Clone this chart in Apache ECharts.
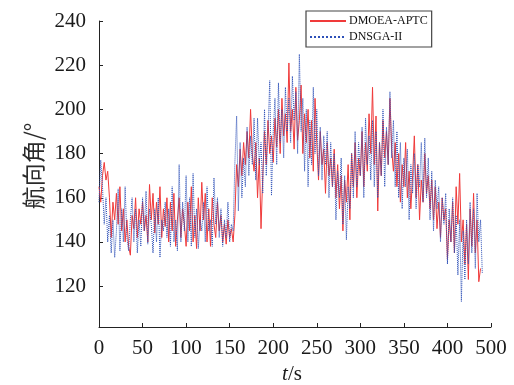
<!DOCTYPE html>
<html>
<head>
<meta charset="utf-8">
<script src="https://cdn.jsdelivr.net/npm/echarts@6/dist/echarts.min.js"></script>
<style>html,body{margin:0;padding:0;background:#fff}#c{width:514px;height:385px}</style>
</head>
<body>
<div id="c"></div>
<script>
// time step of the samples (s)
var tStep = 2;
// x tick positions and their printed labels (as in the reference)
var xTicks = [0, 50, 100, 150, 200, 250, 300, 350, 400, 450];
var xTickLabels = ['0', '50', '100', '150', '200', '250', '300', '350', '400', '500'];
var yTicks = [120, 140, 160, 180, 200, 220, 240];
var seriesNames = ['DMOEA-APTC', 'DNSGA-II'];

// DMOEA-APTC heading angle (deg), one value every 2 s
var dmoea = [
  165,158,170,176,168,172,160,142,158,150,
  162,148,165,145,155,140,150,138,134,152,
  146,160,142,155,148,158,145,152,140,166,
  150,162,144,158,148,165,142,155,147,160,
  140,158,145,162,138,150,160,142,155,148,
  138,158,145,165,140,152,137,160,145,167,
  150,162,140,155,138,160,148,142,158,145,
  152,140,148,139,150,142,146,140,152,175,
  165,182,170,185,175,190,178,200,180,172,
  185,160,178,146,170,190,175,195,180,188,
  176,196,183,200,180,205,188,198,185,221,
  190,200,182,210,186,195,211,180,198,185,
  200,178,195,172,205,185,168,190,175,182,
  162,185,170,178,165,182,160,175,155,170,
  145,168,158,175,150,180,165,185,160,178,
  170,190,165,185,172,198,180,210,175,197,
  154,185,170,195,178,190,175,205,182,172,
  185,165,180,158,175,165,185,160,172,155,
  170,188,160,175,150,168,158,180,162,170,
  155,168,150,165,146,158,142,160,150,155,
  132,150,140,158,135,165,148,171,140,150,
  130,148,123,155,138,162,135,150,122,128
];

// DNSGA-II heading angle (deg), one value every 2 s
var dnsga = [
  158,177,165,148,160,140,152,135,150,133,
  145,164,136,155,140,165,142,136,150,160,
  140,155,135,150,138,160,145,163,139,155,
  148,135,155,140,160,133,150,145,158,142,
  155,138,165,140,150,136,175,140,158,145,
  170,140,160,138,171,142,155,137,150,145,
  158,140,165,145,150,138,169,148,160,142,
  155,138,150,142,158,140,148,145,176,197,
  154,185,160,178,165,192,170,188,175,196,
  168,196,175,185,162,200,170,190,213,161,
  190,205,175,212,185,200,178,210,190,205,
  185,215,195,208,180,225,190,205,172,200,
  165,195,175,210,180,200,170,192,168,188,
  175,190,160,185,165,180,150,172,160,178,
  148,170,141,165,155,180,160,190,165,185,
  170,192,160,196,175,188,168,195,165,190,
  160,185,170,200,165,192,175,208,178,195,
  165,190,160,185,155,178,165,182,150,175,
  162,180,155,175,165,185,158,187,160,178,
  150,172,145,168,155,165,140,160,148,162,
  130,155,140,160,135,152,125,150,113,145,
  123,150,130,158,135,155,128,162,140,150,
  126
];

function pairs(vals) {
  return vals.map(function (v, i) { return [i * tStep, v]; });
}

var serif = '"Liberation Serif", "DejaVu Serif", serif';
var chart = echarts.init(document.getElementById('c'), null, {renderer: 'canvas'});
chart.setOption({
  animation: false,
  backgroundColor: '#fff',
  grid: {left: 99, right: 23, top: 21, bottom: 58, containLabel: false},
  legend: {
    orient: 'vertical',
    left: 306, top: 11,
    backgroundColor: '#fff',
    borderColor: '#444', borderWidth: 1.2,
    padding: [4, 4, 4, 3],
    itemWidth: 36, itemHeight: 10, itemGap: 4,
    itemStyle: {opacity: 0, borderWidth: 0},
    textStyle: {fontFamily: serif, fontSize: 12, color: '#111', padding: [0, 0, 0, -2]},
    data: seriesNames
  },
  xAxis: {
    type: 'value', min: 0, max: 450,
    axisLine: {lineStyle: {color: '#222', width: 1}},
    axisTick: {inside: true, length: 4, customValues: xTicks, lineStyle: {color: '#222'}},
    axisLabel: {
      customValues: xTicks, margin: 11,
      fontFamily: serif, fontSize: 21, color: '#1a1a1a',
      formatter: function (v) { var i = xTicks.indexOf(v); return i >= 0 ? xTickLabels[i] : ''; }
    },
    splitLine: {show: false}
  },
  yAxis: {
    type: 'value', min: 101.5, max: 240,
    axisLine: {show: true, lineStyle: {color: '#222', width: 1}},
    axisTick: {show: true, inside: true, length: 4, customValues: yTicks, lineStyle: {color: '#222'}},
    axisLabel: {customValues: yTicks, margin: 13, fontFamily: serif, fontSize: 21, color: '#1a1a1a'},
    splitLine: {show: false}
  },
  graphic: [
    {type: 'text', x: 33, y: 166, rotation: Math.PI / 2,
     style: {text: '航向角/°', font: '23px "Noto Sans CJK SC"', fill: '#2a2a2a', align: 'center', verticalAlign: 'middle'}},
    {type: 'text', x: 292, y: 374,
     style: {text: '{i|t}/s', fill: '#1a1a1a', font: '21px ' + serif, align: 'center', verticalAlign: 'middle',
             rich: {i: {fontStyle: 'italic', fontFamily: serif, fontSize: 21}}}}
  ],
  series: [
    {name: seriesNames[0], type: 'line', data: pairs(dmoea), showSymbol: false, symbol: 'none',
     lineStyle: {color: '#f03a3a', width: 1}, itemStyle: {color: '#f03a3a'}},
    {name: seriesNames[1], type: 'line', data: pairs(dnsga), showSymbol: false, symbol: 'none',
     lineStyle: {color: '#2d50b8', width: 1, type: 'dotted'}, itemStyle: {color: '#2d50b8'}}
  ]
});
</script>
</body>
</html>
